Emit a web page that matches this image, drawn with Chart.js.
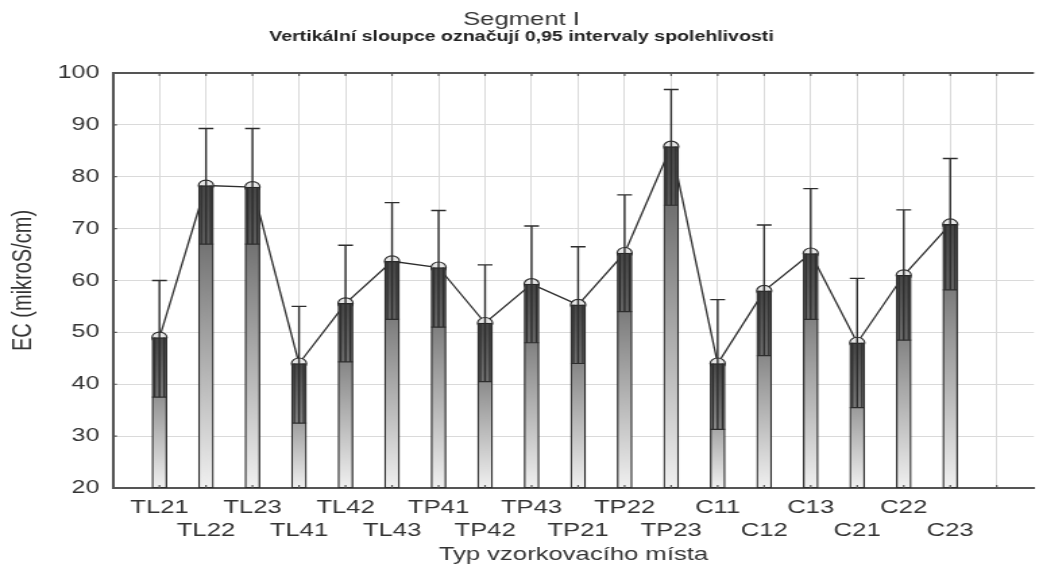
<!DOCTYPE html>
<html lang="cs">
<head>
    <meta charset="UTF-8">
    <title>Segment I</title>
    <script src="https://cdn.jsdelivr.net/npm/chart.js@4.4.0/dist/chart.umd.min.js"></script>
    <style>
        html, body { margin: 0; padding: 0; background: #fff; overflow: hidden; }
        /* the original picture is stretched sideways, so draw narrow and scale */
        #wrap { width: 773px; height: 574px; transform: scaleX(1.3493); transform-origin: 0 0; }
    </style>
</head>
<body>
    <div id="wrap"><canvas id="chart"></canvas></div>

    <script>
        // data
        const categories = ['TL21', 'TL22', 'TL23', 'TL41', 'TL42', 'TL43', 'TP41', 'TP42', 'TP43',
                            'TP21', 'TP22', 'TP23', 'C11', 'C12', 'C13', 'C21', 'C22', 'C23'];
        const means   = [49.0, 78.3, 78.0, 44.0, 55.6, 63.7, 62.5, 51.8, 59.3, 55.3, 65.3, 85.8, 44.0, 58.0, 65.2, 48.0, 61.0, 70.8];
        const upperCI = [60.0, 89.3, 89.3, 55.0, 66.8, 75.0, 73.5, 63.0, 70.5, 66.5, 76.5, 96.8, 56.3, 70.7, 77.7, 60.4, 73.6, 83.5];
        const lowerCI = [37.5, 67.0, 67.0, 32.5, 44.3, 52.5, 51.0, 40.5, 48.0, 44.0, 54.0, 74.5, 31.3, 45.5, 52.5, 35.5, 48.5, 58.2];
        const yTicks  = [20, 30, 40, 50, 60, 70, 80, 90, 100];
        const yBase = 20;

        const ink = '#2e2e2e';

        // error bars, inner box and the frame ticks
        const errorBars = {
            id: 'errorBars',
            afterDatasetsDraw(chart) {
                const ctx = chart.ctx;
                const meta = chart.getDatasetMeta(0);
                const y = chart.scales.y;
                const area = chart.chartArea;
                ctx.save();
                meta.data.forEach((bar, i) => {
                    const cx = bar.x;
                    const hw = bar.width / 2;
                    const yMean = y.getPixelForValue(means[i]);
                    const yLow = y.getPixelForValue(lowerCI[i]);
                    const yUp = y.getPixelForValue(upperCI[i]);

                    ctx.fillStyle = 'rgba(0,0,0,0.18)';
                    ctx.fillRect(cx - hw + 1, yMean, bar.width - 2, yLow - yMean);

                    ctx.strokeStyle = ink;
                    ctx.lineWidth = 1.2;
                    ctx.beginPath();
                    ctx.moveTo(cx - hw, yLow); ctx.lineTo(cx + hw, yLow);
                    ctx.moveTo(cx - 3.5, yLow); ctx.lineTo(cx - 3.5, yMean);
                    ctx.moveTo(cx + 3.5, yLow); ctx.lineTo(cx + 3.5, yMean);
                    ctx.stroke();

                    ctx.lineWidth = 1.4;
                    ctx.beginPath();
                    ctx.moveTo(cx, yLow); ctx.lineTo(cx, yUp);
                    ctx.moveTo(cx - 5.5, yUp); ctx.lineTo(cx + 5.5, yUp);
                    ctx.stroke();
                });

                // top frame line and small inward ticks
                ctx.strokeStyle = '#555555';
                ctx.lineWidth = 2;
                ctx.beginPath();
                ctx.moveTo(area.left, area.top);
                ctx.lineTo(area.right, area.top);
                ctx.stroke();
                ctx.lineWidth = 1.2;
                ctx.beginPath();
                chart.scales.x.ticks.forEach(t => {
                    const px = chart.scales.x.getPixelForValue(t.value);
                    ctx.moveTo(px, area.top); ctx.lineTo(px, area.top + 3);
                    ctx.moveTo(px, area.bottom); ctx.lineTo(px, area.bottom - 3);
                });
                yTicks.forEach(v => {
                    const py = y.getPixelForValue(v);
                    ctx.moveTo(area.left, py); ctx.lineTo(area.left + 3, py);
                });
                ctx.stroke();
                ctx.restore();
            }
        };

        const barData = categories.map((c, i) => ({ x: i + 1, y: [yBase, means[i]] }));
        const lineData = categories.map((c, i) => ({ x: i + 1, y: means[i] }));

        new Chart(document.getElementById('chart'), {
            data: {
                datasets: [{
                    type: 'bar',
                    data: barData,
                    barThickness: 11,
                    borderColor: ink,
                    borderWidth: 1.3,
                    borderSkipped: false,
                    order: 1,
                    backgroundColor: (c) => {
                        const chart = c.chart;
                        if (!chart.chartArea) return '#999999';
                        const y = chart.scales.y;
                        const top = y.getPixelForValue(means[c.dataIndex]);
                        const g = chart.ctx.createLinearGradient(0, top, 0, y.getPixelForValue(yBase));
                        g.addColorStop(0, '#555555');
                        g.addColorStop(1, '#f0f0f0');
                        return g;
                    }
                }, {
                    type: 'line',
                    data: lineData,
                    borderColor: ink,
                    borderWidth: 1.3,
                    tension: 0,
                    pointRadius: 5.5,
                    pointBackgroundColor: '#e6e6e6',
                    pointBorderColor: ink,
                    pointBorderWidth: 1.2,
                    order: 2
                }]
            },
            options: {
                responsive: true,
                maintainAspectRatio: false,
                animation: false,
                layout: { padding: 0 },
                plugins: {
                    legend: { display: false },
                    tooltip: { enabled: false },
                    title: {
                        display: true,
                        text: 'Segment I',
                        color: '#333333',
                        font: { family: 'Liberation Sans', size: 19, weight: 'normal', lineHeight: 1.0 },
                        padding: { top: 10, bottom: 0 }
                    },
                    subtitle: {
                        display: true,
                        text: 'Vertikální sloupce označují 0,95 intervaly spolehlivosti',
                        color: '#222222',
                        font: { family: 'Liberation Sans', size: 14.5, weight: 'bold', lineHeight: 1.1 },
                        padding: { top: 0, bottom: 28 }
                    }
                },
                scales: {
                    x: {
                        type: 'linear',
                        offset: false,
                        min: 0,
                        max: 19.8,
                        afterBuildTicks: (s) => {
                            s.ticks = [];
                            for (let v = 0; v <= categories.length + 1; v++) s.ticks.push({ value: v });
                        },
                        afterFit: (s) => { s.height = 86; },
                        grid: { color: '#dadada', lineWidth: 1, drawTicks: false, offset: false },
                        border: { color: '#555555', width: 2 },
                        ticks: {
                            autoSkip: false,
                            maxRotation: 0,
                            minRotation: 0,
                            padding: 8,
                            color: '#333333',
                            font: { family: 'Liberation Sans', size: 19, lineHeight: 1.22 },
                            callback: (v) => {
                                const i = v - 1;
                                if (i < 0 || i >= categories.length) return '';
                                return i % 2 === 0 ? [categories[i], ''] : ['', categories[i]];
                            }
                        },
                        title: {
                            display: true,
                            text: 'Typ vzorkovacího místa',
                            color: '#333333',
                            font: { family: 'Liberation Sans', size: 19, lineHeight: 1.2 },
                            padding: { top: 0, bottom: 8 }
                        }
                    },
                    y: {
                        min: 20,
                        max: 100,
                        afterBuildTicks: (s) => { s.ticks = yTicks.map(v => ({ value: v })); },
                        afterFit: (s) => { s.width = 83.7; },
                        grid: { color: '#dadada', lineWidth: 1, drawTicks: false },
                        border: { color: '#555555', width: 2 },
                        ticks: {
                            padding: 10,
                            color: '#333333',
                            font: { family: 'Liberation Sans', size: 18.5 }
                        },
                        title: {
                            display: true,
                            text: 'EC (mikroS/cm)',
                            color: '#333333',
                            font: { family: 'Liberation Sans', size: 20, lineHeight: 1.2 },
                            padding: { top: 5, bottom: 0 }
                        }
                    }
                }
            },
            plugins: [errorBars]
        });
    </script>
</body>
</html>
